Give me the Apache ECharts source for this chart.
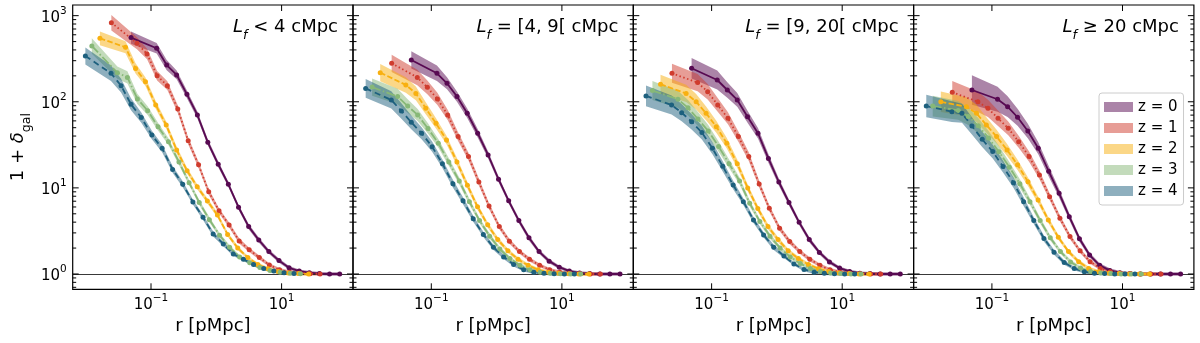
<!DOCTYPE html>
<html><head><meta charset="utf-8">
<script src="https://cdn.jsdelivr.net/npm/echarts@6/dist/echarts.min.js"></script>
<style>html,body{margin:0;padding:0;background:#fff}#c{width:1200px;height:343px}</style>
</head><body><div id="c"></div>
<script>
// ---------------- data ----------------
const zLabels = ['z = 0', 'z = 1', 'z = 2', 'z = 3', 'z = 4'];
const panelConditions = ['< 4', '= [4, 9[', '= [9, 20[', '≥ 20'];
const xLabel = 'r [pMpc]';

// radii (pMpc) for each redshift
const r_z0 = [0.0494, 0.122, 0.174, 0.247, 0.355, 0.513, 0.741, 1.07, 1.53, 2.19, 3.13, 4.47, 6.38, 9.12, 13.0, 18.6, 26.6, 38.0, 54.3, 77.6];
const r_z1 = [0.0247, 0.061, 0.087, 0.124, 0.178, 0.257, 0.371, 0.535, 0.765, 1.10, 1.57, 2.24, 3.19, 4.56, 6.50, 9.30, 13.3, 19.0, 27.2, 38.8];
const r_z2 = [0.0165, 0.0407, 0.058, 0.0823, 0.118, 0.171, 0.247, 0.357, 0.51, 0.73, 1.04, 1.49, 2.13, 3.04, 4.33, 6.20, 8.87, 12.7, 18.1, 25.9];
const r_z3 = [0.0124, 0.0305, 0.0435, 0.0618, 0.0888, 0.128, 0.185, 0.268, 0.383, 0.548, 0.783, 1.12, 1.60, 2.28, 3.25, 4.65, 6.65, 9.50, 13.6, 19.4];
const r_z4 = [0.00988, 0.0244, 0.0348, 0.0494, 0.071, 0.103, 0.148, 0.214, 0.306, 0.438, 0.626, 0.894, 1.28, 1.82, 2.60, 3.72, 5.32, 7.60, 10.9, 15.5];

// 1 + delta_gal, panel 1 (L_f < 4)
const p1_z0 = [556, 418, 267, 205, 122, 70.3, 33.8, 18.8, 11.0, 5.96, 3.55, 2.48, 1.82, 1.43, 1.18, 1.08, 1.035, 1.01, 1.0, 1.0];
const p1_z1 = [830, 478, 359, 201, 154, 82.4, 35.3, 18.5, 9.04, 5.43, 3.71, 2.42, 1.91, 1.55, 1.27, 1.12, 1.05, 1.02, 1.007, 1.0];
const p1_z2 = [546, 430, 244, 171, 91.8, 53.7, 27.5, 15.8, 10.3, 7.05, 4.84, 2.88, 2.0, 1.55, 1.29, 1.15, 1.07, 1.03, 1.01, 1.0];
const p1_z3 = [445, 218, 192, 108, 78.9, 51.4, 34.4, 20.0, 11.5, 6.76, 4.27, 2.82, 2.04, 1.58, 1.35, 1.19, 1.10, 1.05, 1.02, 1.005];
const p1_z4 = [340, 214, 154, 93.5, 65.5, 41.1, 28.8, 16.4, 11.0, 6.85, 4.55, 2.92, 2.23, 1.71, 1.48, 1.29, 1.16, 1.08, 1.035, 1.01];
// panel 2 (L_f in [4,9[)
const p2_z0 = [306, 214, 164, 115, 73.5, 43.1, 24.1, 12.6, 7.08, 4.17, 2.63, 1.82, 1.41, 1.20, 1.08, 1.03, 1.01, 1.0, 1.0, 1.0];
const p2_z1 = [280, 192, 147, 108, 70.3, 39.4, 23.1, 11.7, 6.17, 3.55, 2.40, 1.82, 1.48, 1.26, 1.12, 1.05, 1.016, 1.005, 1.0, 1.0];
const p2_z2 = [218, 157, 125, 83.9, 56.2, 36.0, 20.0, 10.7, 6.03, 3.72, 2.51, 1.86, 1.48, 1.26, 1.12, 1.05, 1.02, 1.007, 1.0, 1.0];
const p2_z3 = [148, 115, 89.1, 70.3, 49.0, 33.0, 20.0, 12.0, 6.92, 4.17, 2.75, 1.95, 1.51, 1.26, 1.12, 1.05, 1.02, 1.007, 1.0, 1.0];
const p2_z4 = [143, 105, 78.2, 57.7, 43.1, 30.1, 19.1, 11.2, 7.08, 4.37, 2.88, 2.04, 1.58, 1.29, 1.12, 1.05, 1.02, 1.007, 1.0, 1.0];
// panel 3 (L_f in [9,20[)
const p3_z0 = [245, 179, 137, 105, 67.1, 43.1, 22.0, 11.7, 6.76, 3.98, 2.51, 1.78, 1.38, 1.17, 1.07, 1.02, 1.01, 1.0, 1.0, 1.0];
const p3_z1 = [214, 167, 131, 91.8, 64.3, 39.4, 23.1, 11.1, 5.79, 3.39, 2.38, 1.82, 1.48, 1.26, 1.12, 1.05, 1.016, 1.005, 1.0, 1.0];
const p3_z2 = [160, 125, 100, 73.5, 51.4, 33.0, 19.1, 10.0, 5.75, 3.55, 2.51, 1.86, 1.51, 1.29, 1.15, 1.07, 1.03, 1.01, 1.0, 1.0];
const p3_z3 = [135, 107, 85.1, 63.1, 45.7, 30.2, 19.1, 12.0, 6.61, 4.07, 2.75, 2.0, 1.58, 1.32, 1.16, 1.07, 1.03, 1.01, 1.0, 1.0];
const p3_z4 = [117, 91.8, 74.8, 58.7, 43.9, 28.8, 17.8, 10.8, 6.92, 4.24, 2.84, 2.04, 1.62, 1.31, 1.13, 1.05, 1.02, 1.007, 1.0, 1.0];
// panel 4 (L_f >= 20)
const p4_z0 = [137, 107, 87.7, 66.1, 45.8, 28.8, 15.6, 8.65, 4.63, 2.57, 1.66, 1.26, 1.10, 1.035, 1.01, 1.0, 1.0, 1.0, 1.0, 1.0];
const p4_z1 = [129, 100, 83.9, 64.3, 49.2, 34.4, 23.1, 14.1, 7.91, 4.44, 2.72, 1.86, 1.39, 1.16, 1.06, 1.02, 1.01, 1.0, 1.0, 1.0];
const p4_z2 = [100, 87.7, 73.5, 53.7, 39.4, 27.5, 18.5, 11.8, 7.24, 4.24, 2.67, 1.82, 1.39, 1.16, 1.06, 1.02, 1.01, 1.0, 1.0, 1.0];
const p4_z3 = [89.1, 79.4, 67.6, 52.5, 38.0, 26.3, 17.4, 11.2, 6.92, 4.17, 2.63, 1.82, 1.38, 1.17, 1.07, 1.03, 1.01, 1.0, 1.0, 1.0];
const p4_z4 = [89.3, 76.7, 73.5, 52.4, 36.6, 26.4, 17.7, 11.5, 6.92, 4.17, 2.59, 1.79, 1.36, 1.16, 1.06, 1.02, 1.01, 1.0, 1.0, 1.0];

// half-width of the shaded band, in dex
const e1_z0 = [.07,.06,.06,.05,.045,.04,.035,.035,.03,.03,.03,.03,.025,.025,.02,.02,.02,.02,.02,.02];
const e1_z1 = [.09,.07,.06,.055,.05,.045,.04,.035,.035,.03,.03,.03,.025,.025,.02,.02,.02,.02,.02,.02];
const e1_z2 = [.08,.07,.06,.05,.045,.04,.04,.035,.03,.03,.03,.025,.025,.02,.02,.02,.02,.02,.02,.02];
const e1_z3 = [.09,.07,.07,.06,.05,.045,.04,.035,.03,.03,.03,.025,.025,.02,.02,.02,.02,.02,.02,.02];
const e1_z4 = [.10,.09,.08,.07,.06,.05,.045,.04,.035,.03,.03,.03,.025,.025,.02,.02,.02,.02,.02,.02];
const e2_z0 = [.10,.09,.07,.06,.055,.05,.04,.035,.03,.03,.03,.025,.025,.02,.02,.02,.02,.02,.02,.02];
const e2_z1 = [.10,.09,.08,.07,.06,.05,.045,.04,.035,.03,.03,.025,.025,.02,.02,.02,.02,.02,.02,.02];
const e2_z2 = [.10,.09,.08,.07,.06,.05,.045,.04,.035,.03,.03,.025,.025,.02,.02,.02,.02,.02,.02,.02];
const e2_z3 = [.10,.09,.08,.07,.06,.05,.045,.04,.035,.03,.03,.025,.025,.02,.02,.02,.02,.02,.02,.02];
const e2_z4 = [.11,.10,.09,.08,.07,.06,.05,.045,.04,.035,.03,.03,.025,.025,.02,.02,.02,.02,.02,.02];
const e3_z0 = [.12,.11,.09,.08,.07,.06,.05,.04,.035,.03,.03,.025,.025,.02,.02,.02,.02,.02,.02,.02];
const e3_z1 = [.11,.10,.09,.08,.07,.06,.05,.04,.035,.03,.03,.025,.025,.02,.02,.02,.02,.02,.02,.02];
const e3_z2 = [.11,.10,.09,.08,.07,.06,.05,.04,.035,.03,.03,.025,.025,.02,.02,.02,.02,.02,.02,.02];
const e3_z3 = [.11,.10,.09,.08,.07,.06,.05,.04,.035,.03,.03,.025,.025,.02,.02,.02,.02,.02,.02,.02];
const e3_z4 = [.12,.11,.10,.09,.08,.07,.06,.05,.04,.035,.03,.03,.025,.02,.02,.02,.02,.02,.02,.02];
const e4_z0 = [.17,.145,.12,.10,.085,.07,.06,.05,.04,.035,.03,.025,.025,.02,.02,.02,.02,.02,.02,.02];
const e4_z1 = [.13,.12,.10,.09,.08,.07,.06,.05,.04,.035,.03,.025,.025,.02,.02,.02,.02,.02,.02,.02];
const e4_z2 = [.12,.11,.10,.09,.08,.07,.06,.05,.04,.035,.03,.025,.025,.02,.02,.02,.02,.02,.02,.02];
const e4_z3 = [.12,.11,.10,.09,.08,.07,.06,.05,.04,.035,.03,.025,.025,.02,.02,.02,.02,.02,.02,.02];
const e4_z4 = [.13,.12,.11,.10,.09,.08,.07,.06,.05,.04,.035,.03,.025,.02,.02,.02,.02,.02,.02,.02];

// axis ticks
const xMajorTicks = [0.1, 10];
const yMajorTicks = [1, 10, 100, 1000];
const yMinorTicks = [0.7, 0.8, 0.9, 2, 3, 4, 5, 6, 7, 8, 9, 20, 30, 40, 50, 60, 70, 80, 90, 200, 300, 400, 500, 600, 700, 800, 900];

// ---------------- styling / assembly ----------------
const FONT = 'DejaVu Sans';
const radii = [r_z0, r_z1, r_z2, r_z3, r_z4];
const panelVals = [[p1_z0,p1_z1,p1_z2,p1_z3,p1_z4],[p2_z0,p2_z1,p2_z2,p2_z3,p2_z4],[p3_z0,p3_z1,p3_z2,p3_z3,p3_z4],[p4_z0,p4_z1,p4_z2,p4_z3,p4_z4]];
const panelErrs = [[e1_z0,e1_z1,e1_z2,e1_z3,e1_z4],[e2_z0,e2_z1,e2_z2,e2_z3,e2_z4],[e3_z0,e3_z1,e3_z2,e3_z3,e3_z4],[e4_z0,e4_z1,e4_z2,e4_z3,e4_z4]];
const lineColors = ['#580a52', '#d03c2e', '#f8b010', '#87b877', '#1d607e'];
const bandColors = ['rgba(88,10,82,0.5)', 'rgba(208,60,46,0.5)', 'rgba(248,176,16,0.5)', 'rgba(135,184,119,0.5)', 'rgba(29,96,126,0.5)'];
const dashes = ['solid', [1.5, 2.5], [5.5, 2.4], [9, 2.4, 1.5, 2.4], [6, 4]];

const GL = 72.7, GW = 280.3, GT = 5, GH = 284.3;
const XMIN = 0.00632, XMAX = 124, YMIN = 0.664, YMAX = 1330;

function supLabel(v, allowed) {
  const e = Math.log10(v), k = Math.round(e);
  if (Math.abs(e - k) > 1e-6) return '';
  if (allowed && allowed.indexOf(k) < 0) return '';
  return '{b|10}{s|' + (k < 0 ? '\u2212' : '') + Math.abs(k) + '}';
}
const tickRich = {
  b: {fontSize: 15, fontFamily: FONT, color: '#000', verticalAlign: 'bottom', lineHeight: 20},
  s: {fontSize: 10.5, fontFamily: FONT, color: '#000', verticalAlign: 'top', lineHeight: 12}
};

const grids = [], xAxes = [], yAxes = [], series = [], titles = [];
for (let g = 0; g < 4; g++) {
  grids.push({left: GL + g * GW, top: GT, width: GW, height: GH, show: true, borderColor: '#000', borderWidth: 1.2, backgroundColor: 'transparent'});
  xAxes.push({
    type: 'log', gridIndex: g, min: XMIN, max: XMAX,
    name: xLabel, nameLocation: 'middle', nameGap: 28,
    nameTextStyle: {fontSize: 18, fontFamily: FONT, color: '#000'},
    axisLine: {show: false}, axisTick: {show: false}, splitLine: {show: false},
    axisLabel: {show: true, margin: 3, formatter: v => supLabel(v, [-1, 1]), rich: tickRich, showMinLabel: true, showMaxLabel: true, hideOverlap: false}
  });
  yAxes.push({
    type: 'log', gridIndex: g, min: YMIN, max: YMAX,
    name: g === 0 ? '{a|1 + }{d|\u03b4}{g|gal}' : '', nameLocation: 'middle', nameGap: 39,
    nameTextStyle: {rich: {
      a: {fontSize: 18, fontFamily: FONT, color: '#000', verticalAlign: 'top', lineHeight: 24},
      d: {fontSize: 18, fontFamily: FONT, fontStyle: 'italic', color: '#000', verticalAlign: 'top', lineHeight: 24},
      g: {fontSize: 12.6, fontFamily: FONT, color: '#000', verticalAlign: 'bottom', lineHeight: 14}
    }},
    axisLine: {show: false}, axisTick: {show: false}, splitLine: {show: false},
    axisLabel: {show: g === 0, margin: 6, formatter: v => supLabel(v, null), rich: tickRich}
  });
  titles.push({
    text: '{i|L}{f|f}{t| ' + panelConditions[g] + ' cMpc}',
    right: 1200 - (GL + (g + 1) * GW - 15), top: 18, padding: 0,
    textStyle: {fontWeight: 'normal', rich: {
      i: {fontSize: 18, fontFamily: FONT, fontStyle: 'italic', fontWeight: 'normal', color: '#000', verticalAlign: 'top', lineHeight: 24},
      f: {fontSize: 12.6, fontFamily: FONT, fontStyle: 'italic', fontWeight: 'normal', color: '#000', verticalAlign: 'bottom', lineHeight: 14},
      t: {fontSize: 18, fontFamily: FONT, fontWeight: 'normal', color: '#000', verticalAlign: 'top', lineHeight: 24}
    }}
  });

  // shaded bands
  for (let z = 0; z < 5; z++) {
    const r = radii[z], v = panelVals[g][z], e = panelErrs[g][z];
    series.push({
      type: 'custom', name: zLabels[z], xAxisIndex: g, yAxisIndex: g, z: 1, silent: true, clip: true,
      itemStyle: {color: bandColors[z]},
      data: r.map((x, i) => [x, v[i]]),
      renderItem: (params, api) => {
        if (params.dataIndex !== 0) return null;
        const up = [], dn = [];
        for (let i = 0; i < r.length; i++) {
          up.push(api.coord([r[i], v[i] * Math.pow(10, e[i])]));
          dn.push(api.coord([r[i], v[i] * Math.pow(10, -e[i])]));
        }
        return {type: 'polygon', shape: {points: up.concat(dn.reverse())}, style: {fill: bandColors[z]}};
      }
    });
  }
  // lines with markers
  for (let z = 0; z < 5; z++) {
    const r = radii[z], v = panelVals[g][z];
    const s = {
      type: 'line', name: 'line' + g + z, xAxisIndex: g, yAxisIndex: g, z: 3, silent: true,
      data: r.map((x, i) => [x, v[i]]),
      symbol: 'circle', symbolSize: 5, showSymbol: true,
      lineStyle: {color: lineColors[z], width: 1.8, type: dashes[z]},
      itemStyle: {color: lineColors[z], borderWidth: 0}
    };
    if (z === 0) {
      s.markLine = {silent: true, symbol: 'none', label: {show: false}, lineStyle: {color: '#222', width: 0.9, type: 'solid'}, data: [{yAxis: 1}], z: 2};
    }
    series.push(s);
  }
  // inward ticks on all four sides
  const yT = yMajorTicks.map(t => [1, t, 1]).concat(yMinorTicks.map(t => [1, t, 0]));
  series.push({
    type: 'custom', xAxisIndex: g, yAxisIndex: g, z: 10, silent: true, clip: false,
    data: yT,
    renderItem: (params, api) => {
      const cs = params.coordSys;
      const y = api.coord([api.value(0), api.value(1)])[1];
      const len = api.value(2) ? 6 : 3.5;
      const st = {stroke: '#000', lineWidth: 1};
      return {type: 'group', children: [
        {type: 'line', shape: {x1: cs.x, y1: y, x2: cs.x + len, y2: y}, style: st},
        {type: 'line', shape: {x1: cs.x + cs.width - len, y1: y, x2: cs.x + cs.width, y2: y}, style: st}
      ]};
    }
  });
  series.push({
    type: 'custom', xAxisIndex: g, yAxisIndex: g, z: 10, silent: true, clip: false,
    data: xMajorTicks.map(t => [t, 1]),
    renderItem: (params, api) => {
      const cs = params.coordSys;
      const x = api.coord([api.value(0), api.value(1)])[0];
      const st = {stroke: '#000', lineWidth: 1};
      return {type: 'group', children: [
        {type: 'line', shape: {x1: x, y1: cs.y + cs.height, x2: x, y2: cs.y + cs.height - 6}, style: st},
        {type: 'line', shape: {x1: x, y1: cs.y, x2: x, y2: cs.y + 6}, style: st}
      ]};
    }
  });
}

const chart = echarts.init(document.getElementById('c'), null, {renderer: 'canvas'});
chart.setOption({
  animation: false,
  backgroundColor: '#fff',
  title: titles,
  grid: grids, xAxis: xAxes, yAxis: yAxes, series: series,
  legend: {
    data: zLabels.map((n, i) => ({name: n, itemStyle: {color: bandColors[i]}})),
    orient: 'vertical', left: 1099, top: 93, icon: 'rect',
    itemWidth: 29, itemHeight: 10, itemGap: 5,
    backgroundColor: 'rgba(255,255,255,0.85)', borderColor: '#ccc', borderWidth: 1, borderRadius: 3,
    padding: [6, 6, 6, 5], selectedMode: false,
    textStyle: {fontSize: 15, fontFamily: FONT, color: '#000', lineHeight: 16}
  }
});
</script></body></html>
